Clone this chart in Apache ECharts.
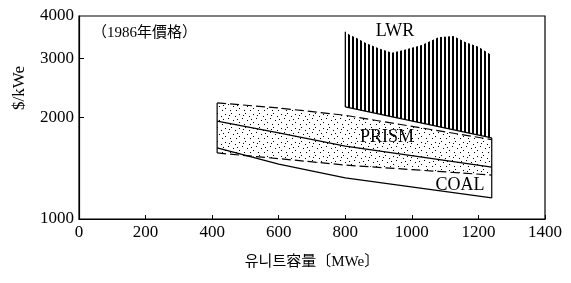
<!DOCTYPE html>
<html>
<head>
<meta charset="utf-8">
<script src="https://cdn.jsdelivr.net/npm/echarts@6/dist/echarts.min.js"></script>
<style>
html, body { margin: 0; padding: 0; background: #fff; }
#main { width: 571px; height: 283px; }
</style>
</head>
<body>
<div id="main"></div>
<script>
var xTicks = [0, 200, 400, 600, 800, 1000, 1200, 1400];
var yTicks = [1000, 2000, 3000, 4000];

// PRISM (dashed, dotted fill) and COAL (solid) bands
var bandX = [415, 600, 800, 1240];
var prismTop = [2210, 2135, 2030, 1720];
var prismLow = [1570, 1510, 1445, 1350];
var coalTop = [1950, 1800, 1645, 1425];
var coalLow = [1625, 1455, 1325, 1155];

// LWR hatched region
var lwrX = [800, 815, 830, 860, 900, 940, 975, 1030, 1080, 1125, 1160, 1200, 1240];
var lwrTop = [3590, 3510, 3460, 3330, 3210, 3110, 3170, 3280, 3460, 3490, 3350, 3240, 3060];
var lwrBaseX = [800, 1240];
var lwrBase = [2150, 1740];

var serif = '"Liberation Serif", "Noto Sans CJK KR", serif';

function pairs(xs, ys) {
    return xs.map(function (x, i) { return [x, ys[i]]; });
}

function hatchPattern() {
    var c = document.createElement('canvas');
    c.width = 4; c.height = 4;
    var g = c.getContext('2d');
    g.fillStyle = '#fff';
    g.fillRect(0, 0, 4, 4);
    g.fillStyle = '#000';
    g.fillRect(0, 0, 2, 4);
    return c;
}

function dotPattern() {
    var c = document.createElement('canvas');
    c.width = 14; c.height = 14;
    var g = c.getContext('2d');
    g.fillStyle = '#fff';
    g.fillRect(0, 0, 14, 14);
    g.fillStyle = '#000';
    var dots = [[1, 2], [7, 1], [11, 4], [4, 6], [9, 8], [1, 10], [6, 12], [12, 12], [13, 7], [5, 3]];
    dots.forEach(function (d) { g.fillRect(d[0], d[1], 1, 1); });
    return c;
}

function areaSeries(upper, lower, fill) {
    return {
        type: 'custom',
        coordinateSystem: 'cartesian2d',
        silent: true,
        z: 1,
        data: [upper[0]],
        renderItem: function (params, api) {
            var pts = upper.concat(lower.slice().reverse()).map(function (p) {
                return api.coord(p);
            });
            return {
                type: 'polygon',
                shape: { points: pts },
                style: { fill: fill, stroke: null }
            };
        }
    };
}

function lineSeries(data, dashed) {
    return {
        type: 'line',
        data: data,
        symbol: 'none',
        silent: true,
        z: 3,
        lineStyle: { color: '#000', width: 1.2, type: dashed ? [9, 4] : 'solid' }
    };
}

var chart = echarts.init(document.getElementById('main'));
var n = bandX.length - 1;

var option = {
    animation: false,
    grid: { left: 79, right: 26, top: 16, bottom: 64, show: true, borderColor: '#000', borderWidth: 1.2 },
    xAxis: {
        type: 'value',
        min: xTicks[0], max: xTicks[xTicks.length - 1], interval: 200,
        name: '유니트容量〔MWe〕',
        nameLocation: 'middle',
        nameGap: 36,
        nameTextStyle: { color: '#000', fontSize: 15, fontFamily: serif },
        axisLine: { lineStyle: { color: '#000', width: 1.2 } },
        axisTick: { inside: true, length: 4, lineStyle: { color: '#000' } },
        axisLabel: { color: '#000', fontSize: 17, fontFamily: serif, margin: 5,
                     formatter: function (v) { return String(v); } },
        splitLine: { show: false }
    },
    yAxis: {
        type: 'log',
        logBase: 10,
        min: yTicks[0], max: yTicks[yTicks.length - 1],
        axisLine: { lineStyle: { color: '#000', width: 1.2 } },
        axisTick: { inside: true, length: 5, customValues: [2000, 3000], lineStyle: { color: '#000' } },
        axisLabel: { color: '#000', fontSize: 17, fontFamily: serif, margin: 5, customValues: yTicks,
                     formatter: function (v) { return String(Math.round(v)); } },
        splitLine: { show: false }
    },
    graphic: [
        { type: 'text', x: 20, y: 88, rotation: Math.PI / 2,
          style: { text: '$/kWe', font: '17px ' + serif, fill: '#000', textAlign: 'center', textVerticalAlign: 'middle' } },
        { type: 'text', x: 92, y: 33,
          style: { text: '（1986年價格）', font: '15px ' + serif, fill: '#000', textAlign: 'left', textVerticalAlign: 'middle' } },
        { type: 'text', x: 395, y: 31, z: 10,
          style: { text: 'LWR', font: '18px ' + serif, fill: '#000', textAlign: 'center', textVerticalAlign: 'middle' } },
        { type: 'text', x: 387, y: 137, z: 10,
          style: { text: 'PRISM', font: '18px ' + serif, fill: '#000', textAlign: 'center', textVerticalAlign: 'middle' } },
        { type: 'text', x: 460, y: 185, z: 10,
          style: { text: 'COAL', font: '18px ' + serif, fill: '#000', textAlign: 'center', textVerticalAlign: 'middle' } }
    ],
    series: [
        areaSeries(pairs(bandX, prismTop), pairs(bandX, prismLow), { image: dotPattern(), repeat: 'repeat' }),
        areaSeries(pairs(lwrX, lwrTop), pairs(lwrBaseX, lwrBase), { image: hatchPattern(), repeat: 'repeat' }),
        lineSeries(pairs(bandX, prismTop), true),
        lineSeries(pairs(bandX, prismLow), true),
        lineSeries(pairs(bandX, coalTop), false),
        lineSeries(pairs(bandX, coalLow), false),
        lineSeries(pairs(lwrBaseX, lwrBase), false),
        lineSeries([[lwrX[0], lwrBase[0]], [lwrX[0], lwrTop[0]]], false),
        lineSeries([[bandX[0], prismTop[0]], [bandX[0], Math.min(prismLow[0], coalLow[0])]], false),
        lineSeries([[bandX[n], Math.max(lwrBase[1], prismTop[n])], [bandX[n], coalLow[n]]], false)
    ]
};

chart.setOption(option);
window.addEventListener('resize', function () { chart.resize(); });
</script>
</body>
</html>
